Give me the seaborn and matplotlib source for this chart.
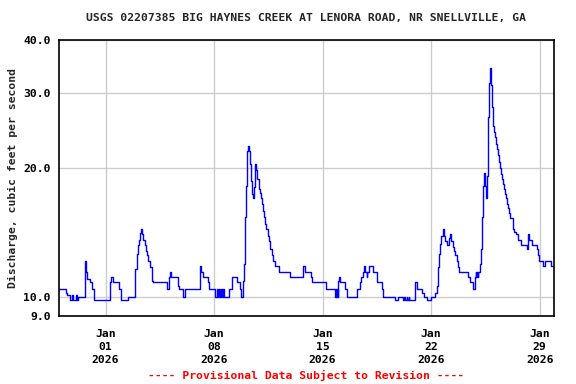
import matplotlib
matplotlib.use("Agg")
import matplotlib.pyplot as plt
import matplotlib.ticker as mticker
import seaborn as sns
import pandas as pd
import numpy as np

# ---- data (days after 2025-12-29 00:00, discharge cfs) ----
day_offset = [
    0.00, 0.44, 0.50, 0.70, 0.86, 0.92, 1.08, 1.15, 1.21, 1.65, 1.71, 1.81, 1.97, 2.14, 2.25,
    3.32, 3.37, 3.47, 3.90, 4.01, 4.44, 4.91, 5.02, 5.08, 5.15, 5.23, 5.30, 5.36, 5.41, 5.52,
    5.60, 5.68, 5.77, 5.86, 5.97, 6.01, 6.07, 6.94, 7.10, 7.17, 7.21, 7.68, 7.75, 8.01, 8.14,
    9.08, 9.15, 9.30, 9.60, 9.68, 10.05, 10.20, 10.25, 10.31, 10.37, 10.44, 10.50, 10.57, 10.63,
    10.94, 11.15, 11.47, 11.68, 11.75, 11.86, 11.92, 12.01, 12.07, 12.14, 12.18, 12.23, 12.26,
    12.33, 12.39, 12.44, 12.50, 12.57, 12.61, 12.65, 12.72, 12.78, 12.87, 12.95, 13.02, 13.08,
    13.15, 13.21, 13.30, 13.36, 13.45, 13.54, 13.62, 13.71, 13.81, 13.94, 14.20, 14.91, 15.73,
    15.84, 16.23, 16.29, 17.23, 17.79, 17.86, 17.89, 17.95, 17.99, 18.01, 18.07, 18.12, 18.44,
    18.55, 19.19, 19.41, 19.49, 19.62, 19.66, 19.73, 19.84, 19.88, 19.99, 20.26, 20.48, 20.85,
    20.89, 21.68, 21.86, 22.20, 22.28, 22.34, 22.41, 22.47, 22.54, 22.59, 22.97, 23.06, 23.39,
    23.52, 23.71, 23.99, 24.26, 24.35, 24.42, 24.48, 24.57, 24.65, 24.74, 24.83, 24.91, 25.00,
    25.13, 25.21, 25.30, 25.39, 25.49, 25.55, 25.65, 25.73, 25.81, 26.37, 26.48, 26.70, 26.81,
    26.86, 26.89, 26.95, 27.02, 27.05, 27.17, 27.23, 27.30, 27.36, 27.43, 27.49, 27.54, 27.60,
    27.66, 27.73, 27.77, 27.80, 27.82, 27.88, 27.92, 27.99, 28.05, 28.12, 28.18, 28.25, 28.31,
    28.37, 28.44, 28.50, 28.57, 28.63, 28.70, 28.76, 28.83, 28.89, 28.95, 29.02, 29.10, 29.30,
    29.36, 29.45, 29.61, 29.81, 30.20, 30.24, 30.31, 30.52, 30.85, 30.91, 30.98, 31.21, 31.36,
    31.71, 31.92,
]
discharge = [
    10.4, 10.2, 10.1, 9.8, 10.1, 9.8, 10.1, 9.8, 10.0, 12.1, 11.4, 11.0, 10.8, 10.4, 9.8,
    10.8, 11.1, 10.8, 10.4, 9.8, 10.0, 11.6, 12.6, 13.2, 13.6, 14.1, 14.4, 14.0, 13.6, 13.2,
    12.8, 12.5, 12.1, 11.7, 11.0, 10.9, 10.8, 10.4, 11.1, 11.4, 11.1, 10.6, 10.4, 10.0, 10.4,
    11.8, 11.4, 11.1, 10.8, 10.4, 10.0, 10.4, 10.0, 10.4, 10.0, 10.4, 10.0, 10.4, 10.0,
    10.4, 11.1, 10.8, 10.4, 10.0, 10.9, 11.9, 15.4, 18.2, 22.0, 22.5, 22.6, 22.0,
    20.5, 18.7, 17.4, 17.0, 18.1, 19.6, 20.5, 19.8, 18.9, 17.9, 17.5, 17.0, 16.5,
    15.9, 15.4, 14.8, 14.4, 13.9, 13.5, 12.9, 12.5, 12.1, 11.8, 11.4, 11.1, 11.8,
    11.4, 11.1, 10.8, 10.4, 10.0, 10.4, 10.0, 10.4, 10.0, 10.9, 11.1, 10.8, 10.4,
    10.0, 10.4, 10.8, 11.1, 11.4, 11.8, 11.4, 11.1, 11.4, 11.8, 11.4, 10.8, 10.4,
    10.0, 9.8, 10.0, 9.8, 10.0, 9.8, 10.0, 9.8, 10.0, 9.8, 10.8, 10.4, 10.2,
    10.0, 9.8, 10.0, 10.2, 10.6, 11.7, 12.6, 13.3, 13.9, 14.4, 13.9, 13.5, 13.2,
    13.7, 14.0, 13.5, 13.1, 12.8, 12.5, 12.1, 11.7, 11.4, 11.1, 10.8, 10.4, 11.1,
    11.4, 11.1, 11.4, 11.1, 11.4, 11.9, 12.9, 15.4, 18.2, 19.5, 18.2, 17.0, 19.2,
    26.4, 31.7, 34.3, 32.0, 34.3, 31.4, 27.9, 25.2, 24.3, 23.7, 22.8, 22.2, 21.5,
    20.7, 20.0, 19.4, 18.9, 18.4, 17.9, 17.4, 17.0, 16.5, 16.1, 15.7, 15.3, 14.4,
    14.2, 14.0, 13.6, 13.2, 12.9, 14.0, 13.6, 13.2, 12.9, 12.5, 12.1, 11.8, 12.1,
    11.8, 11.8,
]
tick_dates = ["2026-01-01", "2026-01-08", "2026-01-15", "2026-01-22", "2026-01-29"]
tick_labels = ["Jan\n01\n2026", "Jan\n08\n2026", "Jan\n15\n2026", "Jan\n22\n2026", "Jan\n29\n2026"]
y_ticks = [9.0, 10.0, 20.0, 30.0, 40.0]
y_tick_labels = ["9.0", "10.0", "20.0", "30.0", "40.0"]
title = "USGS 02207385 BIG HAYNES CREEK AT LENORA ROAD, NR SNELLVILLE, GA"
ylabel = "Discharge, cubic feet per second"
footer = "---- Provisional Data Subject to Revision ----"

start = pd.Timestamp("2025-12-29 00:00")
df = pd.DataFrame({
    "time": start + pd.to_timedelta(day_offset, unit="D"),
    "q": discharge,
})

sns.set_theme(style="white")
plt.rcParams["font.family"] = ["DejaVu Sans Mono", "DejaVu Sans"]
plt.rcParams["font.weight"] = "bold"

fig = plt.figure(figsize=(5.76, 3.84), dpi=100)
ax = fig.add_axes([0.1024, 0.177, 0.8594, 0.7188])

sns.lineplot(data=df, x="time", y="q", ax=ax, color="#0000ff", linewidth=1.0,
             drawstyle="steps-post", estimator=None, sort=False)

ax.set_yscale("log")
ax.set_ylim(9.0, 40.0)
ax.set_xlim(start, start + pd.Timedelta(days=31.92))

ax.yaxis.set_major_locator(mticker.FixedLocator(y_ticks))
ax.yaxis.set_minor_locator(mticker.NullLocator())
ax.set_yticklabels(y_tick_labels)
ax.set_xticks(pd.to_datetime(tick_dates))
ax.set_xticklabels(tick_labels, linespacing=1.35)

ax.grid(True, color="#cccccc", linewidth=1.0, linestyle="-")
ax.set_axisbelow(True)
for s in ax.spines.values():
    s.set_color("black")
    s.set_linewidth(1.2)

ax.tick_params(axis="y", length=0, labelsize=8.2, colors="black", pad=6)
ax.tick_params(axis="x", length=0, labelsize=8.2, colors="black", pad=9.5)
for lab in ax.get_xticklabels() + ax.get_yticklabels():
    lab.set_fontweight("bold")

ax.set_xlabel("")
ax.set_ylabel(ylabel, fontsize=8.2, fontweight="bold", labelpad=4)
ax.set_title(title, fontsize=8.2, fontweight="bold", pad=14)
fig.text(0.532, 0.008, footer, color="#ff0000", fontsize=8.2, fontweight="bold",
         ha="center", va="bottom")

fig.savefig("out.png", dpi=100)
